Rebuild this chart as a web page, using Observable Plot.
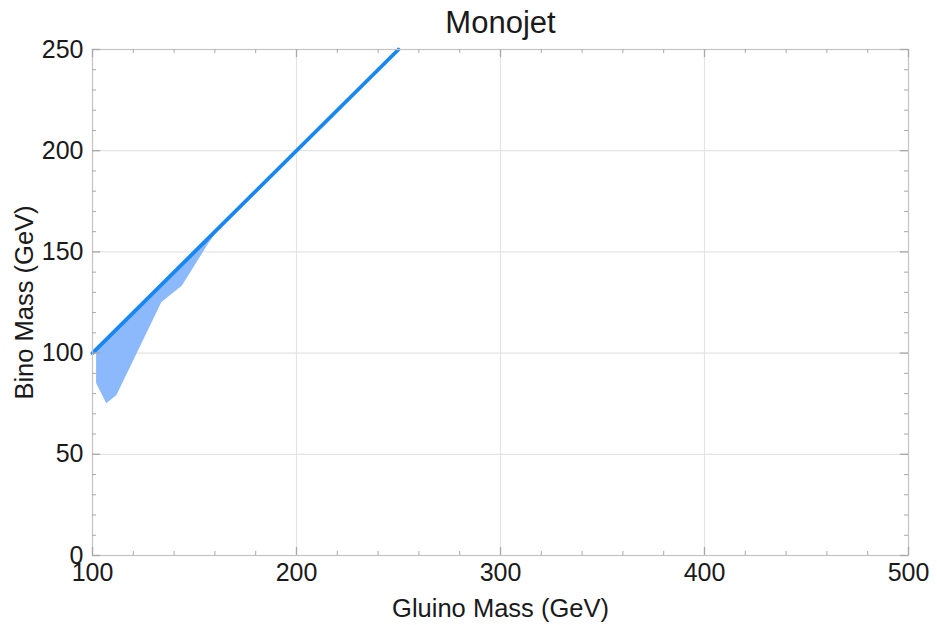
<!DOCTYPE html>
<html>
<head>
<meta charset="utf-8">
<script src="https://cdn.jsdelivr.net/npm/d3@7"></script>
<script src="https://cdn.jsdelivr.net/npm/@observablehq/plot@0.6"></script>
<style>
  html, body { margin: 0; padding: 0; background: #fff; }
</style>
</head>
<body>
<div id="chart"></div>
<script>
const title = "Monojet";
const xLabel = "Gluino Mass (GeV)";
const yLabel = "Bino Mass (GeV)";

const xMajor = [100, 200, 300, 400, 500];
const yMajor = [0, 50, 100, 150, 200, 250];
const xMinor = [120, 140, 160, 180, 220, 240, 260, 280, 320, 340, 360, 380, 420, 440, 460, 480];
const yMinor = [10, 20, 30, 40, 60, 70, 80, 90, 110, 120, 130, 140, 160, 170, 180, 190, 210, 220, 230, 240];

// Boundary line (gluino mass = bino mass)
const lineX = [100, 250];
const lineY = [100, 250];

// Excluded band
const bandX    = [102, 107, 112, 134, 144, 157, 164];
const bandLow  = [85, 75, 79, 125, 133, 154, 164];
const bandHigh = [102, 107, 112, 134, 144, 157, 164];

const band = bandX.map((x, i) => ({x, y1: bandLow[i], y2: bandHigh[i]}));
const line = lineX.map((x, i) => ({x, y: lineY[i]}));

const tickColor = "#a8a8a8";
const textColor = "#1a1a1a";

const chart = Plot.plot({
  width: 937,
  height: 625,
  marginLeft: 92,
  marginRight: 29,
  marginTop: 49,
  marginBottom: 70,
  style: {fontFamily: "'Liberation Sans', Arial, Helvetica, sans-serif", fontSize: "25px", color: textColor, background: "#fff"},
  x: {domain: [100, 500], axis: null},
  y: {domain: [0, 250], axis: null},
  marks: [
    Plot.gridX(xMajor.slice(1, -1), {stroke: "#e4e4e4", strokeOpacity: 1, strokeWidth: 1.2}),
    Plot.gridY(yMajor.slice(1, -1), {stroke: "#e4e4e4", strokeOpacity: 1, strokeWidth: 1.2}),
    Plot.areaY(band, {x: "x", y1: "y1", y2: "y2", fill: "#8cb9fc", fillOpacity: 1}),
    Plot.line(line, {x: "x", y: "y", stroke: "#1987f3", strokeWidth: 3.8}),
    Plot.frame({stroke: "#c4c4c4", strokeWidth: 1.2}),
    // minor ticks (inward) on all sides
    Plot.ruleX(xMinor, {y1: 0, y2: 2, stroke: tickColor}),
    Plot.ruleX(xMinor, {y1: 250, y2: 248, stroke: tickColor}),
    Plot.ruleY(yMinor, {x1: 100, x2: 102, stroke: tickColor}),
    Plot.ruleY(yMinor, {x1: 500, x2: 498, stroke: tickColor}),
    // major ticks (inward)
    Plot.ruleX(xMajor, {y1: 0, y2: 4, stroke: tickColor, strokeWidth: 1.3}),
    Plot.ruleX(xMajor, {y1: 250, y2: 246, stroke: tickColor, strokeWidth: 1.3}),
    Plot.ruleY(yMajor, {x1: 100, x2: 104, stroke: tickColor, strokeWidth: 1.3}),
    Plot.ruleY(yMajor, {x1: 500, x2: 496, stroke: tickColor, strokeWidth: 1.3}),
    // tick labels
    Plot.axisX(xMajor, {anchor: "bottom", tickSize: 0, tickPadding: 8, label: null, fontSize: 25, fill: textColor}),
    Plot.axisY(yMajor, {anchor: "left", tickSize: 0, tickPadding: 9, label: null, fontSize: 25, fill: textColor}),
    // axis titles and chart title
    Plot.text([xLabel], {text: d => d, frameAnchor: "bottom", lineAnchor: "middle", textAnchor: "middle", dy: 53, fontSize: 25.5, fill: textColor}),
    Plot.text([yLabel], {text: d => d, frameAnchor: "left", lineAnchor: "middle", textAnchor: "middle", dx: -68, rotate: -90, fontSize: 25.5, fill: textColor}),
    Plot.text([title], {text: d => d, frameAnchor: "top", lineAnchor: "middle", textAnchor: "middle", dy: -26, fontSize: 31, fill: textColor})
  ]
});
document.getElementById("chart").appendChild(chart);
</script>
</body>
</html>
